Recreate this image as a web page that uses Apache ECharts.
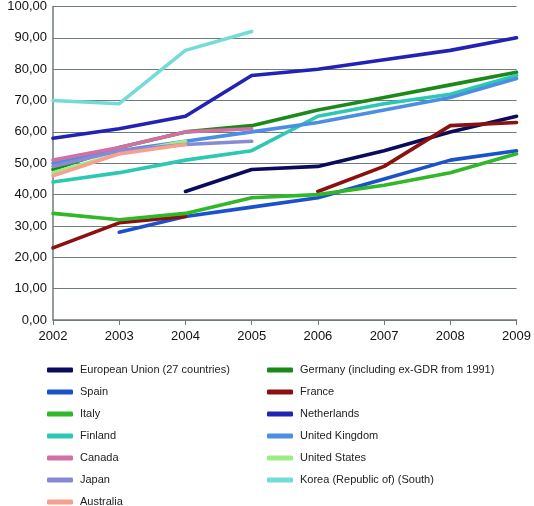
<!DOCTYPE html>
<html><head><meta charset="utf-8">
<script src="https://cdn.jsdelivr.net/npm/echarts@6/dist/echarts.min.js"></script>
<style>html,body{margin:0;padding:0;background:#fff}#c{width:534px;height:506px}</style>
</head><body><div id="c"></div>
<script>
const years = ['2002','2003','2004','2005','2006','2007','2008','2009'];
const names = ['European Union (27 countries)','Germany (including ex-GDR from 1991)','Spain','France','Italy','Netherlands','Finland','United Kingdom','Canada','United States','Japan','Korea (Republic of) (South)','Australia'];
const colors = ['#0b0b5e','#1b8a1b','#1a52cc','#8b1010','#30b828','#2222b4','#2cc8b2','#4c8ee2','#d46fa4','#9cee84','#8a8ad4','#74dcd8','#f8a090'];
const euValues = [null,null,41,48,49,54,60,65];
const germanyValues = [48,55,60,62,67,71,75,79];
const spainValues = [null,28,33,36,39,45,51,54];
const franceValues = [23,31,33,null,41,49,62,63];
const italyValues = [34,32,34,39,40,43,47,53];
const netherlandsValues = [58,61,65,78,80,83,86,90];
const finlandValues = [44,47,51,54,65,69,72,78];
const ukValues = [50,54,57,60,63,67,71,77];
const canadaValues = [51,55,60,61,null,null,null,null];
const usValues = [47,53,57,null,null,null,null,null];
const japanValues = [49,54,56,57,null,null,null,null];
const koreaValues = [70,69,86,92,null,null,null,null];
const australiaValues = [46,53,56,null,null,null,null,null];
const allValues = [euValues,germanyValues,spainValues,franceValues,italyValues,netherlandsValues,finlandValues,ukValues,canadaValues,usValues,japanValues,koreaValues,australiaValues];

const chart = echarts.init(document.getElementById('c'));
const font = 'Liberation Sans, Arial, sans-serif';
const series = names.map((n,i)=>({
  name:n, type:'line', data:allValues[i], showSymbol:false, symbol:'none',
  lineStyle:{width:3.6,color:colors[i],cap:'round',join:'round'}, itemStyle:{color:colors[i]},
  connectNulls:false, z:2+i, animation:false
}));
const legendCommon = {
  orient:'vertical', icon:'roundRect', itemWidth:26, itemHeight:5, itemGap:8, padding:0, height:170,
  textStyle:{fontFamily:font,fontSize:11,color:'#222',lineHeight:14,padding:[0,0,0,2]}, selectedMode:false, top:363
};
chart.setOption({
  animation:false,
  grid:{left:53,right:16,top:5,bottom:186},
  xAxis:{type:'category',data:years,boundaryGap:false,
    axisLine:{lineStyle:{color:'#6d7b7b',width:1.5}},
    axisTick:{show:true,length:5,lineStyle:{color:'#6d7b7b'}},
    axisLabel:{color:'#111',fontFamily:font,fontSize:13,margin:10},
    splitLine:{show:false}},
  yAxis:{type:'value',min:0,max:100,interval:10,
    axisLine:{show:true,lineStyle:{color:'#6d7b7b',width:1.5}},
    axisTick:{show:false},
    axisLabel:{color:'#111',fontFamily:font,fontSize:13,margin:6,formatter:v=>v.toFixed(2).replace('.',',')},
    splitLine:{lineStyle:{color:'#6d7b7b',width:1.2}}},
  legend:[
    Object.assign({left:47,data:[names[0],names[2],names[4],names[6],names[8],names[10],names[12]]},legendCommon),
    Object.assign({left:267,data:[names[1],names[3],names[5],names[7],names[9],names[11]]},legendCommon)
  ],
  series:series
});
</script></body></html>
